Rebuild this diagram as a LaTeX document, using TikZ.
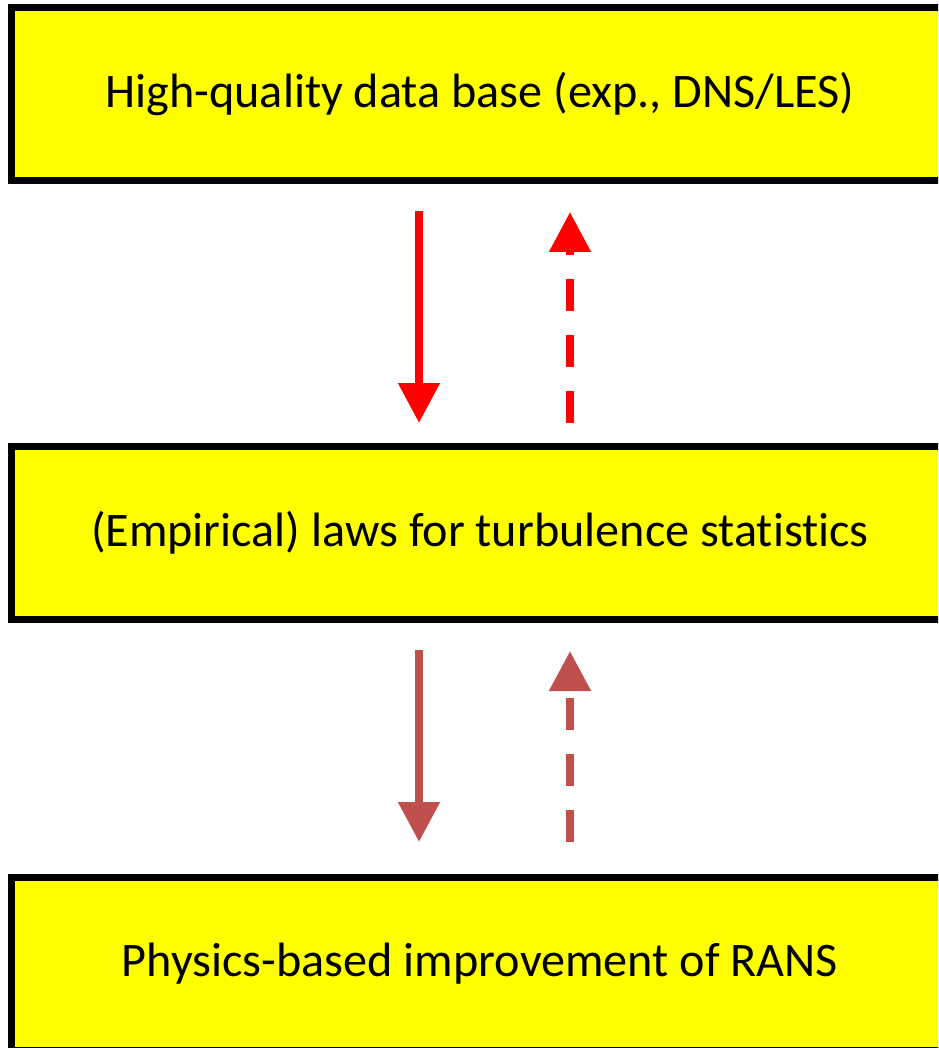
\documentclass[tikz,border=0pt]{standalone}
\usepackage{fontspec}
\setmainfont{Carlito}[Ligatures={NoCommon,NoContextual}]
\usetikzlibrary{arrows.meta}
\definecolor{boxyellow}{HTML}{FFFF00}
\definecolor{brightred}{HTML}{FF0000}
\definecolor{dullred}{HTML}{C0504D}
\tikzset{
  stagebox/.style={draw=black, fill=boxyellow, line width=7pt, minimum width=937pt, minimum height=173pt, inner sep=0pt, font=\fontsize{48.2}{58}\selectfont},
  arrowline/.style={line width=8pt, -{Triangle[width=40pt,length=40pt]}},
  dashline/.style={arrowline, dash pattern=on 32pt off 24pt}
}
\begin{document}
\begin{tikzpicture}[x=1pt,y=-1pt]
\useasboundingbox (0,0) rectangle (938,1048);
\clip (0,0) rectangle (938,1048);
\node[stagebox] (top) at (480,94) {High-quality data base (exp., DNS/LES)};
\node[stagebox] (mid) at (480,533) {(Empirical) laws for turbulence statistics};
\node[stagebox] (bot) at (480,964) {Physics-based improvement of RANS};
\draw[arrowline, brightred] ([xshift=-61pt,yshift=-27pt]top.south) -- ([xshift=-61pt,yshift=20pt]mid.north);
\draw[dashline, brightred] ([xshift=90pt,yshift=20pt]mid.north) -- ([xshift=90pt,yshift=-28pt]top.south);
\draw[arrowline, dullred] ([xshift=-61pt,yshift=-27pt]mid.south) -- ([xshift=-61pt,yshift=32pt]bot.north);
\draw[dashline, dullred] ([xshift=90pt,yshift=32pt]bot.north) -- ([xshift=90pt,yshift=-28pt]mid.south);
\end{tikzpicture}
\end{document}
